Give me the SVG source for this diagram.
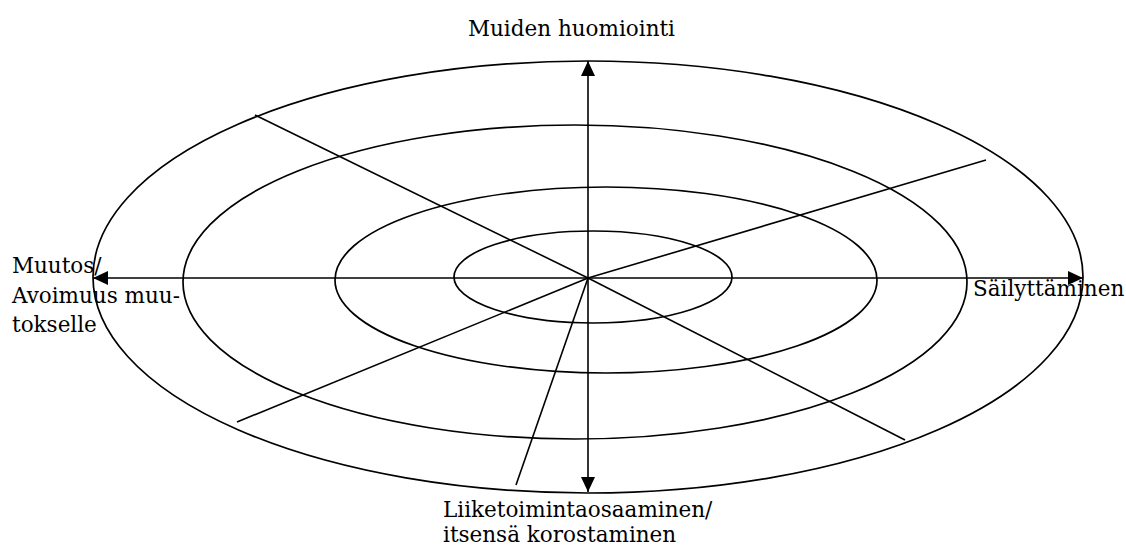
<svg xmlns="http://www.w3.org/2000/svg" width="1126" height="547" viewBox="0 0 1126 547">
<style>
.ring{fill:none;stroke:#000;stroke-width:1.7}
.ln{stroke:#000;stroke-width:1.6;fill:none}
.ax{stroke:#000;stroke-width:1.6;fill:none;marker-end:url(#ah)}
.t{font-family:"DejaVu Serif","Liberation Serif",serif;font-size:21.5px;fill:#000}
</style>
<defs>
<marker id="ah" viewBox="0 0 15 14" refX="15" refY="7" markerWidth="15" markerHeight="14" markerUnits="userSpaceOnUse" orient="auto">
<path d="M0,0 L15,7 L0,14 Z" fill="#000"/>
</marker>
</defs>
<rect width="1126" height="547" fill="#fff"/>
<g id="rings">
<ellipse id="ring4" class="ring" cx="588" cy="277" rx="495" ry="216"/>
<ellipse id="ring3" class="ring" cx="575" cy="282" rx="392" ry="157"/>
<ellipse id="ring2" class="ring" cx="606" cy="280" rx="271" ry="93"/>
<ellipse id="ring1" class="ring" cx="593" cy="277" rx="139" ry="46"/>
</g>
<g id="connectors">
<line class="ax" x1="588" y1="278" x2="588" y2="61"/>
<line class="ax" x1="588" y1="278" x2="588" y2="492"/>
<line class="ax" x1="588" y1="278" x2="93" y2="278"/>
<line class="ax" x1="588" y1="278" x2="1083" y2="278"/>
<line class="ln" x1="255" y1="115" x2="588" y2="278"/>
<line class="ln" x1="588" y1="278" x2="905" y2="440"/>
<line class="ln" x1="588" y1="278" x2="986" y2="160"/>
<line class="ln" x1="588" y1="278" x2="237" y2="422"/>
<line class="ln" x1="588" y1="278" x2="516" y2="485"/>
</g>
<g id="label-top"><text class="t" x="468" y="36">Muiden huomiointi</text></g>
<g id="label-left">
<text class="t" x="12" y="273">Muutos/</text>
<text class="t" x="12" y="303">Avoimuus muu-</text>
<text class="t" x="12" y="332">tokselle</text>
</g>
<g id="label-right"><text class="t" x="973" y="296">Säilyttäminen</text></g>
<g id="label-bottom">
<text class="t" x="443" y="517">Liiketoimintaosaaminen/</text>
<text class="t" x="443" y="542">itsensä korostaminen</text>
</g>
</svg>
